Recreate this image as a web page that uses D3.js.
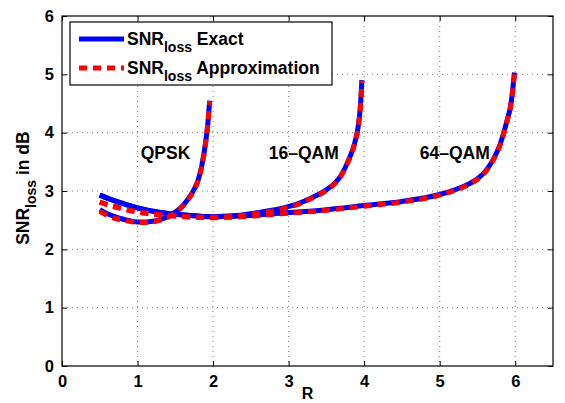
<!DOCTYPE html>
<html><head><meta charset="utf-8">
<script src="https://cdn.jsdelivr.net/npm/d3@7"></script>
<style>
body{margin:0;background:#fff;}
text{font-family:"Liberation Sans",Arial,sans-serif;font-weight:bold;}
</style></head>
<body>
<svg id="c" width="565" height="403"></svg>
<script>
// Data
const xTicks = [0,1,2,3,4,5,6];
const yTicks = [0,1,2,3,4,5,6];
const qpskR      = [0.5,0.6,0.7,0.8,0.9,1.0,1.1,1.2,1.3,1.4,1.5,1.6,1.65,1.7,1.75,1.8,1.85,1.9,1.93,1.955];
const qpskExact  = [2.68,2.61,2.56,2.52,2.49,2.47,2.47,2.48,2.51,2.56,2.64,2.75,2.83,2.92,3.03,3.18,3.43,3.82,4.15,4.55];
const qpskApprox = [2.65,2.58,2.53,2.50,2.48,2.46,2.46,2.47,2.50,2.55,2.63,2.74,2.82,2.91,3.02,3.17,3.42,3.81,4.14,4.54];
const qam16R      = [0.5,0.7,1.0,1.3,1.5,1.8,2.0,2.3,2.6,2.9,3.1,3.3,3.5,3.6,3.7,3.8,3.87,3.92,3.95,3.97];
const qam16Exact  = [2.93,2.83,2.71,2.63,2.60,2.57,2.56,2.58,2.63,2.70,2.77,2.88,3.02,3.12,3.28,3.55,3.80,4.10,4.45,4.90];
const qam16Approx = [2.81,2.73,2.64,2.59,2.57,2.55,2.55,2.57,2.62,2.69,2.76,2.87,3.01,3.11,3.27,3.54,3.79,4.09,4.44,4.89];
const qam64R      = [0.5,0.7,1.0,1.3,1.5,1.8,2.0,2.5,3.0,3.5,4.0,4.5,5.0,5.2,5.4,5.5,5.6,5.7,5.8,5.88,5.95,5.99];
const qam64Exact  = [2.93,2.83,2.71,2.63,2.60,2.57,2.56,2.58,2.63,2.68,2.75,2.82,2.94,3.02,3.13,3.21,3.33,3.52,3.80,4.15,4.55,5.03];
const qam64Approx = [2.81,2.73,2.64,2.59,2.57,2.55,2.54,2.57,2.62,2.67,2.74,2.81,2.93,3.01,3.12,3.20,3.32,3.51,3.79,4.14,4.54,5.02];
const curveLabels = ["QPSK","16\u2013QAM","64\u2013QAM"];
const curveLabelX = [1.37,3.20,5.20];
const curveLabelY = [3.55,3.55,3.55];

const svg = d3.select("#c");
const L=62, R=553, T=16, B=366;
const x = d3.scaleLinear().domain([0,6.5]).range([L,R]);
const y = d3.scaleLinear().domain([0,6]).range([B,T]);
const FS = 17.5;

// grid
const g = svg.append("g");
g.selectAll(".gx").data(xTicks.slice(1)).enter().append("line")
  .attr("x1",d=>x(d)).attr("x2",d=>x(d)).attr("y1",T).attr("y2",B)
  .attr("stroke","#555").attr("stroke-width",0.8).attr("stroke-dasharray","1,4");
g.selectAll(".gy").data(yTicks.slice(1,-1)).enter().append("line")
  .attr("y1",d=>y(d)).attr("y2",d=>y(d)).attr("x1",L).attr("x2",R)
  .attr("stroke","#555").attr("stroke-width",0.8).attr("stroke-dasharray","1,4");

// frame
svg.append("rect").attr("x",L).attr("y",T).attr("width",R-L).attr("height",B-T)
  .attr("fill","none").attr("stroke","#000").attr("stroke-width",1.2);

// axes
const ax = svg.append("g").attr("transform",`translate(0,${B})`)
  .call(d3.axisBottom(x).tickValues(xTicks).tickSize(-5).tickPadding(9).tickFormat(d3.format("d")));
const axT = svg.append("g").attr("transform",`translate(0,${T})`)
  .call(d3.axisTop(x).tickValues(xTicks).tickSize(-5).tickFormat(""));
const ay = svg.append("g").attr("transform",`translate(${L},0)`)
  .call(d3.axisLeft(y).tickValues(yTicks).tickSize(-5).tickPadding(8).tickFormat(d3.format("d")));
const ayR = svg.append("g").attr("transform",`translate(${R},0)`)
  .call(d3.axisRight(y).tickValues(yTicks).tickSize(-5).tickFormat(""));
[ax,axT,ay,ayR].forEach(a=>{
  a.select(".domain").remove();
  a.selectAll("line").attr("stroke","#000");
  a.selectAll("text").attr("font-size",16.5).attr("fill","#000")
   .style("font-family","Liberation Sans, Arial, sans-serif").style("font-weight","bold");
});

// curves
const line = d3.line().x(d=>x(d[0])).y(d=>y(d[1])).curve(d3.curveMonotoneX);
const exactSets = [[qpskR,qpskExact],[qam16R,qam16Exact],[qam64R,qam64Exact]];
const approxSets = [[qpskR,qpskApprox],[qam16R,qam16Approx],[qam64R,qam64Approx]];
svg.append("clipPath").attr("id","clp").append("rect")
  .attr("x",L).attr("y",T).attr("width",R-L).attr("height",B-T);
const cg = svg.append("g").attr("clip-path","url(#clp)");
exactSets.forEach(([rs,vs])=>{
  cg.append("path").datum(rs.map((r,i)=>[r,vs[i]])).attr("d",line)
    .attr("fill","none").attr("stroke","#0000ff").attr("stroke-width",5);
});
approxSets.forEach(([rs,vs])=>{
  cg.append("path").datum(rs.map((r,i)=>[r,vs[i]])).attr("d",line)
    .attr("fill","none").attr("stroke","#ff0000").attr("stroke-width",5)
    .attr("stroke-dasharray","8,6");
});

// curve labels
curveLabels.forEach((t,i)=>{
  svg.append("text").attr("x",x(curveLabelX[i])).attr("y",y(curveLabelY[i]))
    .attr("text-anchor","middle").attr("font-size",FS).text(t);
});

// legend
const lg = svg.append("g");
lg.append("rect").attr("x",70).attr("y",22).attr("width",262).attr("height",63)
  .attr("fill","#fff").attr("stroke","#000").attr("stroke-width",1.2);
const legItems = [{c:"#0000ff",d:null,t:" Exact",yy:39},{c:"#ff0000",d:"8,6",t:" Approximation",yy:68}];
legItems.forEach(it=>{
  lg.append("line").attr("x1",79).attr("x2",124).attr("y1",it.yy).attr("y2",it.yy)
    .attr("stroke",it.c).attr("stroke-width",5).attr("stroke-dasharray",it.d);
  const tx = lg.append("text").attr("x",127).attr("y",it.yy+6).attr("font-size",FS);
  tx.append("tspan").text("SNR");
  tx.append("tspan").attr("dy",7).attr("font-size",14).text("loss");
  tx.append("tspan").attr("dy",-7).text(it.t);
});

// axis labels
svg.append("text").attr("x",x(3.25)).attr("y",399).attr("text-anchor","middle")
  .attr("font-size",16).text("R");
const yl = svg.append("text").attr("transform",`translate(29,${y(3.05)}) rotate(-90)`)
  .attr("text-anchor","middle").attr("font-size",FS);
yl.append("tspan").text("SNR");
yl.append("tspan").attr("dy",7).attr("font-size",14).text("loss");
yl.append("tspan").attr("dy",-7).text(" in dB");
</script>
</body></html>
